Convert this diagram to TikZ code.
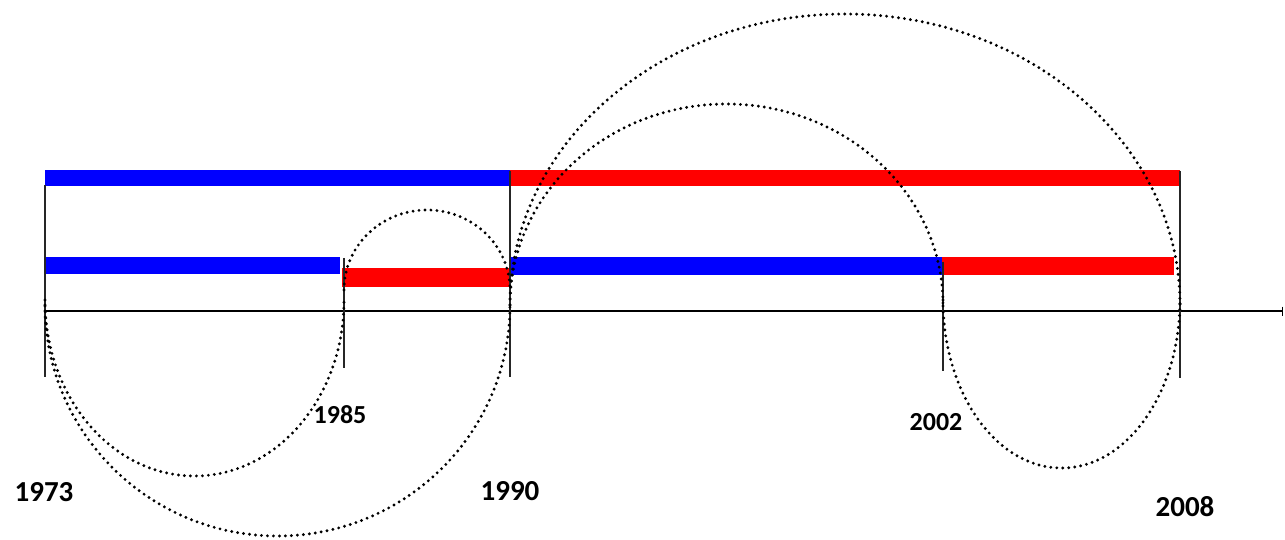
\documentclass[tikz,border=0pt]{standalone}
\usepackage{fontspec}
\setmainfont{Carlito}
\usetikzlibrary{arrows.meta}
\tikzset{
  bluebar/.style={fill={rgb,255:red,0;green,0;blue,255}, draw=none},
  redbar/.style={fill={rgb,255:red,255;green,0;blue,0}, draw=none},
  tickline/.style={draw=black!85, line width=1.4pt},
  axisline/.style={draw=black, line width=1.8pt},
  dotarc/.style={draw=black, line width=3.2pt, dash pattern=on 0pt off 6pt, line cap=round},
  yearbig/.style={font=\fontsize{29}{31}\selectfont\bfseries, inner sep=0pt},
  yearsmall/.style={font=\fontsize{26}{28}\selectfont\bfseries, inner sep=0pt}
}
\begin{document}
\begin{tikzpicture}[x=1pt,y=1pt]
\useasboundingbox (0,0) rectangle (1285,539);
% bars (top row)
\fill[bluebar] (45,353) rectangle (510,369);
\fill[redbar] (510,353) rectangle (1180,369);
% bars (lower row)
\fill[bluebar] (45,265) rectangle (340,282);
\fill[redbar] (342,252) rectangle (510,271);
\fill[bluebar] (510,264) rectangle (942,282);
\fill[redbar] (942,264) rectangle (1174,282);
% axis
\coordinate (a0) at (45,228);
\coordinate (a1) at (1283,228);
\draw[axisline, -{Bar[width=9pt,line width=1.4pt]}] (a0) -- (a1);
% ticks
\coordinate (t73a) at (45,354);   \coordinate (t73b) at (45,162);
\coordinate (t85a) at (344,281);  \coordinate (t85b) at (344,171);
\coordinate (t90a) at (510,368);  \coordinate (t90b) at (510,162);
\coordinate (t02a) at (943,277);  \coordinate (t02b) at (943,168);
\coordinate (t08a) at (1180,368); \coordinate (t08b) at (1180,161);
\draw[tickline] (t73a) -- (t73b);
\draw[tickline] (t85a) -- (t85b);
\draw[tickline] (t90a) -- (t90b);
\draw[tickline] (t02a) -- (t02b);
\draw[tickline] (t08a) -- (t08b);
% dotted arcs
\coordinate (s1) at (45,239);
\draw[dotarc] (s1) arc[start angle=180, end angle=360, x radius=149.5, y radius=176];
\coordinate (s2) at (45,234);
\draw[dotarc] (s2) arc[start angle=180, end angle=360, x radius=232.5, y radius=231];
\coordinate (s3) at (344,249);
\draw[dotarc] (s3) arc[start angle=180, end angle=0, x radius=83, y radius=80];
\coordinate (s4) at (510,234);
\draw[dotarc] (s4) arc[start angle=180, end angle=0, x radius=216.5, y radius=201];
\coordinate (s5) at (510,234);
\draw[dotarc] (s5) arc[start angle=180, end angle=0, x radius=335, y radius=291];
\coordinate (s6) at (943,239);
\draw[dotarc] (s6) arc[start angle=180, end angle=360, x radius=118.5, y radius=168];
% labels
\node[yearbig] (l1973) at (44,47) {1973};
\node[yearsmall] (l1985) at (340,124) {1985};
\node[yearbig] (l1990) at (510,48) {1990};
\node[yearsmall] (l2002) at (936,117) {2002};
\node[yearbig] (l2008) at (1185,32) {2008};
\end{tikzpicture}
\end{document}
